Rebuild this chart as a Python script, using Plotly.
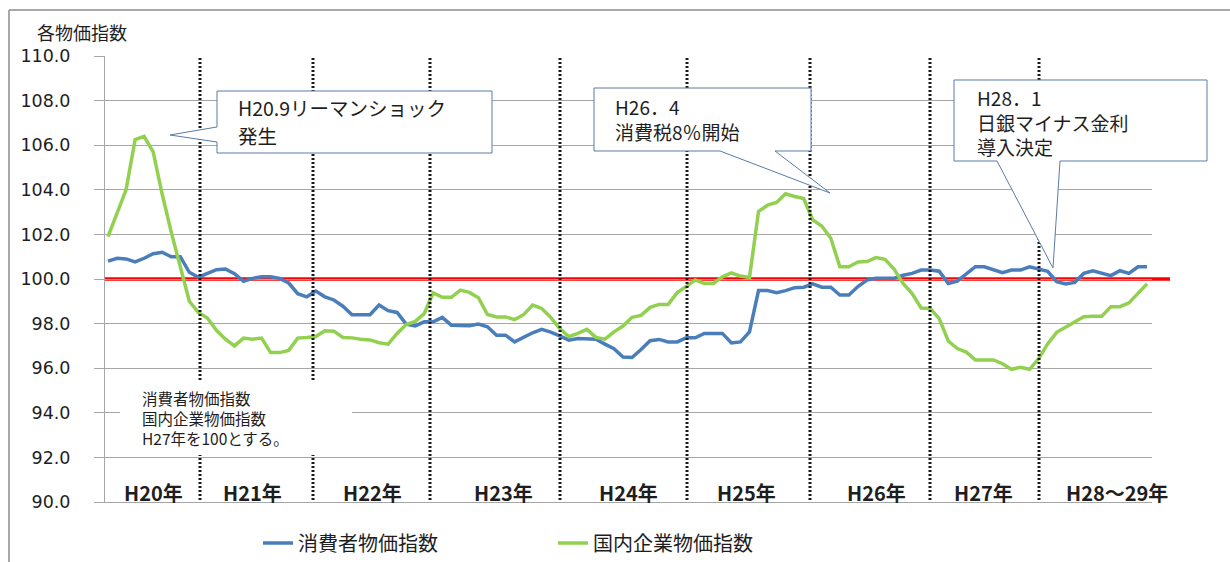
import plotly.graph_objects as go

# ---------------- data (monthly, H20.4 - H29.11) ----------------
months = [f"{2008 + (3 + i) // 12}-{(3 + i) % 12 + 1:02d}" for i in range(116)]

cpi = [100.8, 100.93, 100.9, 100.77, 100.93, 101.13, 101.2, 101.0, 101.0, 100.3,
       100.08, 100.27, 100.42, 100.45, 100.24, 99.9, 100.03, 100.1, 100.1, 100.03,
       99.82, 99.34, 99.2, 99.46, 99.2, 99.06, 98.78, 98.4, 98.4, 98.4,
       98.83, 98.58, 98.5, 97.98, 97.9, 98.08, 98.08, 98.28, 97.93, 97.9,
       97.9, 97.98, 97.86, 97.48, 97.48, 97.18, 97.38, 97.59, 97.74, 97.62,
       97.45, 97.26, 97.33, 97.33, 97.3, 97.08, 96.87, 96.5, 96.48, 96.84,
       97.23, 97.29, 97.18, 97.18, 97.36, 97.36, 97.56, 97.56, 97.56, 97.13,
       97.18, 97.63, 99.48, 99.48, 99.39, 99.48, 99.61, 99.63, 99.78, 99.63,
       99.63, 99.28, 99.28, 99.66, 99.95, 100.03, 100.03, 100.03, 100.17, 100.25,
       100.4, 100.4, 100.35, 99.8, 99.9, 100.22, 100.55, 100.55, 100.4, 100.28,
       100.4, 100.4, 100.55, 100.45, 100.34, 99.88, 99.78, 99.85, 100.25, 100.37,
       100.25, 100.15, 100.37, 100.25, 100.55, 100.55]

cgpi = [101.9, 103.0, 104.0, 106.25, 106.4, 105.7, 103.8, 102.1, 100.5, 99.0,
        98.5, 98.25, 97.7, 97.3, 97.0, 97.35, 97.3, 97.35, 96.7, 96.7,
        96.8, 97.35, 97.38, 97.42, 97.68, 97.66, 97.38, 97.36, 97.3, 97.27,
        97.14, 97.08, 97.56, 97.96, 98.1, 98.45, 99.38, 99.18, 99.18, 99.5,
        99.4, 99.16, 98.41, 98.3, 98.3, 98.18, 98.4, 98.83, 98.68, 98.28,
        97.78, 97.41, 97.56, 97.74, 97.38, 97.3, 97.63, 97.89, 98.28, 98.37,
        98.73, 98.86, 98.86, 99.39, 99.66, 99.96, 99.8, 99.8, 100.1, 100.27,
        100.13, 100.07, 103.03, 103.31, 103.43, 103.82, 103.7, 103.61, 102.65, 102.38,
        101.83, 100.55, 100.55, 100.76, 100.78, 100.96, 100.88, 100.45, 99.8, 99.35,
        98.7, 98.68, 98.22, 97.22, 96.88, 96.72, 96.37, 96.37, 96.37, 96.2,
        95.95, 96.04, 95.95, 96.42, 97.09, 97.61, 97.84, 98.09, 98.31, 98.33,
        98.33, 98.76, 98.76, 98.93, 99.33, 99.78]

series_names = ["消費者物価指数", "国内企業物価指数"]
year_labels = ["H20年", "H21年", "H22年", "H23年", "H24年", "H25年", "H26年", "H27年", "H28～29年"]
base_value = 100
axis_title = "各物価指数"
note_lines = ["消費者物価指数", "国内企業物価指数", "H27年を100とする。"]
callout1 = ["H20.9リーマンショック", "発生"]
callout2 = ["H26．4", "消費税8％開始"]
callout3 = ["H28．1", "日銀マイナス金利", "導入決定"]

# ---------------- layout helpers (pixel -> paper) ----------------
W, H = 1230, 562
L, R, T, B = 105, 1152, 56, 502


def fx(px):
    return (px - L) / (R - L)


def fy(py):
    return (B - py) / (B - T)


def path(points):
    return "M " + " L ".join(f"{fx(x):.5f},{fy(y):.5f}" for x, y in points) + " Z"


JP = "Noto Sans CJK JP"
TXT = "#1e1e1e"
GRID = "#A6A6A6"

fig = go.Figure()
fig.add_trace(go.Scatter(x=months, y=cpi, mode="lines", name=series_names[0],
                         line=dict(color="#4A7EBB", width=3.5)))
fig.add_trace(go.Scatter(x=months, y=cgpi, mode="lines", name=series_names[1],
                         line=dict(color="#92D050", width=3.5)))

shapes = []
# outer chart border (top and left)
shapes.append(dict(type="line", xref="paper", yref="paper", x0=fx(9), x1=fx(1230), y0=fy(10), y1=fy(10),
                   line=dict(color="#8C8C8C", width=1.5), layer="above"))
shapes.append(dict(type="line", xref="paper", yref="paper", x0=fx(9), x1=fx(9), y0=fy(10), y1=fy(562),
                   line=dict(color="#8C8C8C", width=1.5), layer="above"))
# base line at 100
yb = (base_value - 90) / 20
shapes.append(dict(type="line", xref="paper", yref="paper", x0=fx(105), x1=fx(1170), y0=yb, y1=yb,
                   line=dict(color="#FF0000", width=3.5), layer="between"))
# dotted year separators
for px in [200, 313, 430, 560, 687, 810, 930, 1039]:
    shapes.append(dict(type="line", xref="paper", yref="paper", x0=fx(px), x1=fx(px), y0=fy(58), y1=fy(502),
                       line=dict(color="#1a1a1a", width=3, dash="2px,2px"), layer="above"))
# note box background
shapes.append(dict(type="rect", xref="paper", yref="paper", x0=fx(120), x1=fx(352), y0=fy(455), y1=fy(380),
                   fillcolor="white", line=dict(width=0), layer="above"))
# callouts
co_line = dict(color="#5A7BA6", width=1)
shapes.append(dict(type="path", xref="paper", yref="paper",
                   path=path([(217, 91), (492, 91), (492, 153), (217, 153), (217, 142), (170, 135), (217, 127)]),
                   fillcolor="white", line=co_line, layer="above"))
shapes.append(dict(type="path", xref="paper", yref="paper",
                   path=path([(594, 88), (811, 88), (811, 151), (775, 151), (830, 193), (720, 151), (594, 151)]),
                   fillcolor="white", line=co_line, layer="above"))
shapes.append(dict(type="path", xref="paper", yref="paper",
                   path=path([(954, 80), (1207, 80), (1207, 161), (1060, 161), (1053, 268), (997, 161), (954, 161)]),
                   fillcolor="white", line=co_line, layer="above"))


def block(lines, px, py_mid, size):
    return dict(text="<br>".join(lines), x=fx(px), y=fy(py_mid), xref="paper", yref="paper",
                xanchor="left", yanchor="middle", align="left", showarrow=False,
                font=dict(family=JP, size=size, color=TXT))


def line_text(text, px, py, size):
    return dict(text=text, x=fx(px), y=fy(py), xref="paper", yref="paper",
                xanchor="left", yanchor="middle", showarrow=False,
                font=dict(family=JP, size=size, color=TXT))


ann = []
ann.append(dict(text=axis_title, x=fx(35), y=fy(32), xref="paper", yref="paper", xanchor="left",
                yanchor="middle", showarrow=False, font=dict(family=JP, size=18, color=TXT)))
for lbl, cx in zip(year_labels, [153, 252, 372, 503, 628, 746, 876, 983, 1117]):
    ann.append(dict(text=f"<b>{lbl}</b>", x=fx(cx), y=fy(492), xref="paper", yref="paper", xanchor="center",
                    yanchor="middle", showarrow=False, font=dict(family=JP, size=20, color=TXT)))
ann.append(block(note_lines, 140, 418, 15.5))
ann.append(line_text(callout1[0], 236, 107, 19.5))
ann.append(line_text(callout1[1], 236, 135, 19.5))
ann.append(block(callout2, 613, 119, 19))
ann.append(block(callout3, 975, 122, 19))

fig.update_layout(
    width=W, height=H, autosize=False,
    margin=dict(l=L, r=W - R, t=T, b=H - B, pad=0, autoexpand=False),
    paper_bgcolor="white", plot_bgcolor="white",
    font=dict(family=JP, color=TXT),
    shapes=shapes, annotations=ann,
    showlegend=True,
    legend=dict(orientation="h", x=fx(258), xanchor="left", y=fy(543), yanchor="middle",
                font=dict(family=JP, size=20, color=TXT), entrywidth=250, entrywidthmode="pixels",
                bgcolor="rgba(0,0,0,0)"),
    xaxis=dict(type="category", range=[-0.332, 115.55], showticklabels=False, showgrid=False,
               zeroline=False, showline=True, linecolor=GRID, linewidth=1, ticks="", automargin=False),
    yaxis=dict(range=[90, 110], dtick=2, tick0=90, tickformat=".1f", showgrid=True, gridcolor=GRID,
               gridwidth=1, zeroline=False, showline=True, linecolor=GRID, linewidth=1,
               ticks="outside", ticklen=10, tickcolor=GRID, tickwidth=1, ticklabelstandoff=20,
               automargin=False,
               tickfont=dict(family="DejaVu Sans", size=17.5, color=TXT)),
)

fig.write_html("out.html", config={"displayModeBar": False},
               post_script="document.body.style.margin='0';document.body.style.padding='0';"
                           "document.body.style.overflow='hidden';")
